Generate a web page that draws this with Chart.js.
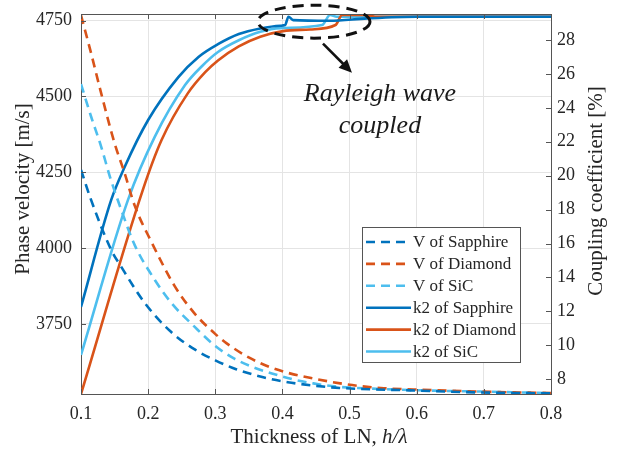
<!DOCTYPE html>
<html>
<head>
<meta charset="utf-8">
<script src="https://cdn.jsdelivr.net/npm/chart.js@4/dist/chart.umd.min.js"></script>
<style>
html,body{margin:0;padding:0;background:#fff;}
#wrap{width:623px;height:452px;position:relative;}
</style>
</head>
<body>
<div id="wrap"><canvas id="c" width="623" height="452"></canvas></div>
<script>
// ---- tick labels ----
const thicknessTicks = [0.1, 0.2, 0.3, 0.4, 0.5, 0.6, 0.7, 0.8];
const velocityTicks = [3750, 4000, 4250, 4500, 4750];
const couplingTicks = [8, 10, 12, 14, 16, 18, 20, 22, 24, 26, 28];

// ---- phase velocity (m/s), left axis ----
const vSapphireX = [0.100, 0.115, 0.145, 0.160, 0.195, 0.234, 0.270, 0.300, 0.332, 0.370, 0.408, 0.449, 0.485, 0.590, 0.695, 0.800];
const vSapphireY = [4258, 4159, 3994, 3938, 3819, 3724, 3665, 3630, 3600, 3575, 3558, 3546, 3539, 3531, 3524, 3521];

const vDiamondX = [0.100, 0.115, 0.130, 0.150, 0.165, 0.180, 0.205, 0.240, 0.269, 0.299, 0.317, 0.352, 0.382, 0.411, 0.451, 0.486, 0.516, 0.551, 0.595, 0.695, 0.800];
const vDiamondY = [4768, 4643, 4511, 4346, 4247, 4140, 4020, 3873, 3785, 3719, 3686, 3637, 3607, 3587, 3568, 3554, 3545, 3538, 3534, 3527, 3522];

const vSiCX = [0.100, 0.115, 0.130, 0.143, 0.160, 0.180, 0.210, 0.235, 0.269, 0.299, 0.327, 0.357, 0.387, 0.416, 0.446, 0.481, 0.511, 0.590, 0.695, 0.800];
const vSiCY = [4541, 4434, 4335, 4236, 4126, 4010, 3895, 3818, 3741, 3679, 3637, 3607, 3585, 3567, 3554, 3543, 3539, 3532, 3527, 3522];

// ---- coupling coefficient k2 (%), right axis ----
const kSapphireX = [0.100, 0.145, 0.165, 0.200, 0.245, 0.275, 0.304, 0.335, 0.367, 0.397, 0.404, 0.409, 0.416, 0.470, 0.526, 0.600, 0.800];
const kSapphireY = [12.26, 18.57, 20.51, 23.28, 25.81, 27.00, 27.75, 28.35, 28.68, 28.84, 28.88, 29.37, 29.17, 29.13, 29.27, 29.37, 29.37];

const kDiamondX = [0.100, 0.192, 0.220, 0.259, 0.285, 0.304, 0.335, 0.367, 0.401, 0.441, 0.479, 0.489, 0.523, 0.538, 0.800];
const kDiamondY = [7.13, 19.15, 22.10, 24.85, 26.10, 26.79, 27.62, 28.19, 28.52, 28.62, 28.88, 29.47, 29.47, 29.37, 29.37];

const kSiCX = [0.100, 0.170, 0.210, 0.255, 0.280, 0.304, 0.335, 0.367, 0.397, 0.459, 0.471, 0.481, 0.800];
const kSiCY = [9.43, 18.57, 22.30, 25.34, 26.45, 27.29, 27.98, 28.48, 28.70, 28.88, 29.47, 29.37, 29.37];

const seriesLabels = ['V of Sapphire', 'V of Diamond', 'V of SiC', 'k2 of Sapphire', 'k2 of Diamond', 'k2 of SiC'];

// ---- styles ----
const C_BLUE = '#0072BD', C_ORANGE = '#D95319', C_LIGHT = '#4DBEEE';
const FONT = '"Liberation Serif", "Times New Roman", serif';
const AX = '#262626';
const DASH = [9, 6];

const pts = (xs, ys) => xs.map((x, i) => ({x: x, y: ys[i]}));

function ds(label, xs, ys, color, axis, dashed) {
  return {
    label: label, data: pts(xs, ys), yAxisID: axis,
    borderColor: color, backgroundColor: color, borderWidth: 2.6,
    borderDash: dashed ? DASH : [], pointRadius: 0, fill: false,
    cubicInterpolationMode: 'monotone'
  };
}

function noPad(s) { s.paddingTop = 0; s.paddingBottom = 0; s.paddingLeft = 0; s.paddingRight = 0; }

const overlay = {
  id: 'overlay',
  afterDraw(chart) {
    const ctx = chart.ctx;
    const a = chart.chartArea;
    const xs = chart.scales.x, yl = chart.scales.yL, yr = chart.scales.yR;
    ctx.save();
    // box top border & inside ticks
    ctx.strokeStyle = '#555';
    ctx.lineWidth = 1;
    ctx.beginPath();
    ctx.moveTo(a.left, a.top + 0.5); ctx.lineTo(a.right, a.top + 0.5);
    thicknessTicks.forEach(v => {
      const p = Math.round(xs.getPixelForValue(v)) + 0.5;
      ctx.moveTo(p, a.bottom); ctx.lineTo(p, a.bottom - 5);
      ctx.moveTo(p, a.top); ctx.lineTo(p, a.top + 5);
    });
    velocityTicks.forEach(v => {
      const p = Math.round(yl.getPixelForValue(v)) + 0.5;
      ctx.moveTo(a.left, p); ctx.lineTo(a.left + 5, p);
    });
    couplingTicks.forEach(v => {
      const p = Math.round(yr.getPixelForValue(v)) + 0.5;
      ctx.moveTo(a.right, p); ctx.lineTo(a.right - 5, p);
    });
    ctx.stroke();

    // axis titles
    ctx.fillStyle = AX;
    ctx.textAlign = 'center';
    ctx.textBaseline = 'middle';
    ctx.font = '21px ' + FONT;
    ctx.save();
    ctx.translate(23, 189);
    ctx.rotate(-Math.PI / 2);
    ctx.fillText('Phase velocity [m/s]', 0, 0);
    ctx.restore();
    ctx.save();
    ctx.translate(596, 191);
    ctx.rotate(-Math.PI / 2);
    ctx.fillText('Coupling coefficient [%]', 0, 0);
    ctx.restore();
    // x title with italic h/λ
    const t1 = 'Thickness of LN, ', t2 = 'h/λ';
    ctx.font = '21px ' + FONT;
    const w1 = ctx.measureText(t1).width;
    ctx.font = 'italic 21px ' + FONT;
    const w2 = ctx.measureText(t2).width;
    const cx = (a.left + a.right) / 2 + 3;
    let sx = cx - (w1 + w2) / 2;
    ctx.textAlign = 'left';
    ctx.font = '21px ' + FONT;
    ctx.fillText(t1, sx, 437);
    ctx.font = 'italic 21px ' + FONT;
    ctx.fillText(t2, sx + w1, 437);

    // legend
    const lx = 362, ly = 227, lw = 158, lh = 135;
    ctx.fillStyle = '#fff';
    ctx.fillRect(lx, ly, lw, lh);
    ctx.strokeStyle = '#555';
    ctx.lineWidth = 1;
    ctx.strokeRect(lx + 0.5, ly + 0.5, lw, lh);
    ctx.font = '17px ' + FONT;
    ctx.textAlign = 'left';
    ctx.textBaseline = 'middle';
    chart.data.datasets.forEach((d, i) => {
      const yy = ly + 15 + i * 21.9;
      ctx.strokeStyle = d.borderColor;
      ctx.lineWidth = 2.6;
      ctx.setLineDash(d.borderDash);
      ctx.beginPath();
      ctx.moveTo(lx + 4, yy); ctx.lineTo(lx + 49, yy);
      ctx.stroke();
      ctx.setLineDash([]);
      ctx.fillStyle = AX;
      ctx.fillText(d.label, lx + 51, yy + 1);
    });

    // annotation: dashed ellipse, arrow, text
    const ex = xs.getPixelForValue(0.447), ey = yr.getPixelForValue(29.08);
    ctx.strokeStyle = '#111';
    ctx.lineWidth = 3;
    ctx.setLineDash([11, 7]);
    ctx.beginPath();
    ctx.ellipse(ex, ey, 56, 16.5, 0, 0, Math.PI * 2);
    ctx.stroke();
    ctx.setLineDash([]);
    const ax0 = ex + 9, ay0 = ey + 22, ax1 = ex + 38, ay1 = ey + 51;
    const ang = Math.atan2(ay1 - ay0, ax1 - ax0);
    ctx.lineWidth = 2.6;
    ctx.beginPath();
    ctx.moveTo(ax0, ay0);
    ctx.lineTo(ax1 - 8 * Math.cos(ang), ay1 - 8 * Math.sin(ang));
    ctx.stroke();
    ctx.fillStyle = '#111';
    ctx.beginPath();
    ctx.moveTo(ax1, ay1);
    ctx.lineTo(ax1 - 13 * Math.cos(ang) + 6 * Math.sin(ang), ay1 - 13 * Math.sin(ang) - 6 * Math.cos(ang));
    ctx.lineTo(ax1 - 13 * Math.cos(ang) - 6 * Math.sin(ang), ay1 - 13 * Math.sin(ang) + 6 * Math.cos(ang));
    ctx.closePath();
    ctx.fill();
    ctx.font = 'italic 26px ' + FONT;
    ctx.textAlign = 'center';
    ctx.textBaseline = 'middle';
    ctx.fillStyle = '#1a1a1a';
    ctx.fillText('Rayleigh wave', ex + 66, ey + 73);
    ctx.fillText('coupled', ex + 66, ey + 105);
    ctx.restore();
  }
};

Chart.defaults.font.family = FONT;
Chart.defaults.color = AX;

new Chart(document.getElementById('c'), {
  type: 'line',
  data: {
    datasets: [
      ds(seriesLabels[0], vSapphireX, vSapphireY, C_BLUE, 'yL', true),
      ds(seriesLabels[1], vDiamondX, vDiamondY, C_ORANGE, 'yL', true),
      ds(seriesLabels[2], vSiCX, vSiCY, C_LIGHT, 'yL', true),
      ds(seriesLabels[3], kSapphireX, kSapphireY, C_BLUE, 'yR', false),
      ds(seriesLabels[4], kDiamondX, kDiamondY, C_ORANGE, 'yR', false),
      ds(seriesLabels[5], kSiCX, kSiCY, C_LIGHT, 'yR', false)
    ]
  },
  options: {
    responsive: false,
    animation: false,
    layout: {padding: {top: 14, left: 0, right: 0, bottom: 0}},
    plugins: {legend: {display: false}, tooltip: {enabled: false}},
    scales: {
      x: {
        type: 'linear', position: 'bottom', min: 0.1, max: 0.8,
        afterBuildTicks: s => { s.ticks = thicknessTicks.map(v => ({value: v})); },
        afterFit: s => { s.height = 58; noPad(s); },
        ticks: {font: {size: 18}, color: AX, padding: 9, maxRotation: 0, autoSkip: false,
                callback: v => String(v)},
        grid: {color: '#e4e4e4', drawTicks: false, lineWidth: 1},
        border: {display: true, color: '#555'}
      },
      yL: {
        type: 'linear', position: 'left', min: 3519, max: 4772,
        afterBuildTicks: s => { s.ticks = velocityTicks.map(v => ({value: v})); },
        afterFit: s => { s.width = 81; noPad(s); },
        ticks: {font: {size: 18}, color: AX, padding: 9, autoSkip: false, callback: v => String(v)},
        grid: {color: '#e4e4e4', drawTicks: false, lineWidth: 1},
        border: {display: true, color: '#555'}
      },
      yR: {
        type: 'linear', position: 'right', min: 7.13, max: 29.53,
        afterBuildTicks: s => { s.ticks = couplingTicks.map(v => ({value: v})); },
        afterFit: s => { s.width = 72; noPad(s); },
        ticks: {font: {size: 18}, color: AX, padding: 6, autoSkip: false, callback: v => String(v)},
        grid: {display: false, drawOnChartArea: false, drawTicks: false},
        border: {display: true, color: '#555'}
      }
    }
  },
  plugins: [overlay]
});
</script>
</body>
</html>
